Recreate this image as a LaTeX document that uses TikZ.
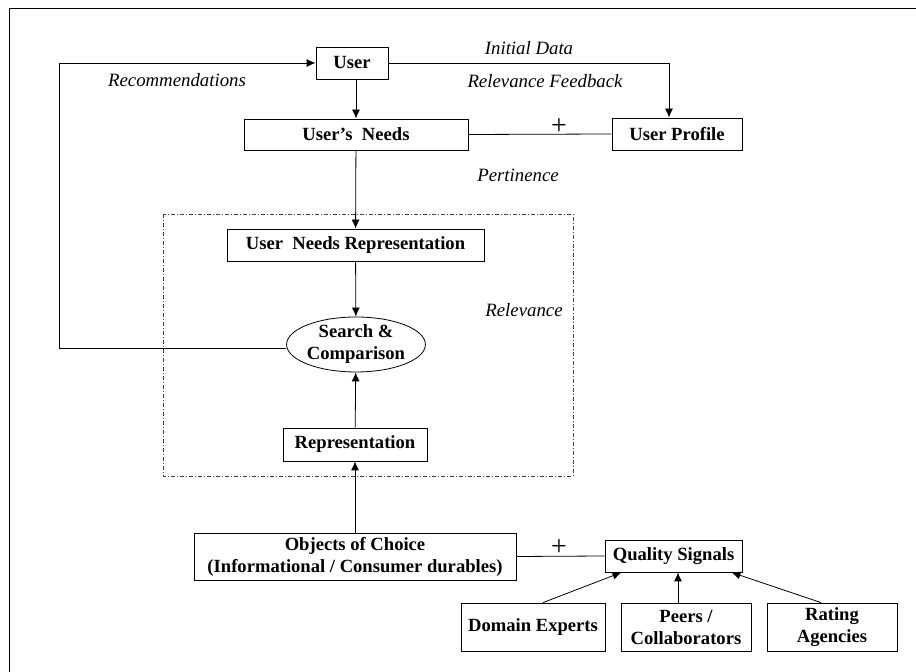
\documentclass[tikz,border=0pt]{standalone}
\usepackage{fontspec}
\setmainfont{Liberation Serif}
\usetikzlibrary{shapes.geometric,arrows.meta}

\begin{document}
\begin{tikzpicture}[x=0.5pt,y=-0.5pt, >={Latex[length=4.5pt,width=4pt]},
  box/.style={draw, rectangle, inner sep=0pt, align=center, font=\bfseries\fontsize{9.3}{11}\selectfont},
  oval/.style={draw, ellipse, inner sep=0pt, align=center, minimum width=64pt, minimum height=27.5pt, font=\bfseries\fontsize{9.3}{11}\selectfont},
  lbl/.style={inner sep=0pt, font=\itshape\fontsize{9.4}{11}\selectfont},
  cross/.style={inner sep=0pt, font=\fontsize{14}{14}\selectfont}]
\useasboundingbox (0,0) rectangle (916,672);
\draw (916,8) -- (9,8) -- (9,672);
\small
% boxes
\node[box, minimum width=36pt, minimum height=16pt] (user) at (352,63) {User};
\node[box, minimum width=112pt, minimum height=15.5pt] (needs) at (356,134.5) {User's\ \ Needs};
\node[box, minimum width=65pt, minimum height=16pt] (profile) at (677,134) {User Profile};
\node[box, minimum width=128.5pt, minimum height=16pt] (unr) at (355.5,245) {User\ \ Needs Representation};
\node[oval] (search) at (356,344.5) {Search \&\\Comparison};
\node[box, minimum width=72pt, minimum height=16.5pt] (repr) at (355,444.5) {Representation};
\node[box, minimum width=161pt, minimum height=23.5pt] (objects) at (355,556.5) {Objects of Choice\\(Informational / Consumer durables)};
\node[box, minimum width=68.5pt, minimum height=16pt] (quality) at (673.5,556) {Quality Signals};
\node[box, minimum width=72pt, minimum height=24pt] (experts) at (533,627) {Domain Experts};
\node[box, minimum width=65pt, minimum height=24pt] (peers) at (686,627) {Peers /\\Collaborators};
\node[box, minimum width=65pt, minimum height=24pt] (agencies) at (832,627) {Rating\\Agencies};
% labels
\node[lbl] (initial) at (529,48) {Initial Data};
\node[lbl] (feedback) at (545,81) {Relevance Feedback};
\node[lbl] (recomm) at (177,80) {Recommendations};
\node[lbl] (pertin) at (518,175) {Pertinence};
\node[lbl] (relev) at (524,310) {Relevance};
\node[cross] (plus1) at (559,127) {+};
\node[cross] (plus2) at (559,548) {+};
% dashed frame
\draw[black!75, dash pattern=on 2pt off 1pt on 0.5pt off 1pt] (163,214) rectangle (573,476);
% connectors
\coordinate (loop) at (59,63);
\path[draw,->] (needs |- user.south) -- (needs.north);
\path[draw,->] (needs) -- (unr);
\path[draw,->] (unr) -- (search);
\path[draw,->] (repr) -- (search);
\path[draw,->] (objects) -- (repr);
\path[draw,->] (user.east) -| ([xshift=-4pt]profile.north);
\path[draw,->] ([yshift=-2pt]search.west) -| (loop) -- (user.west);
\path[draw,-] (needs.east) -- (profile.west);
\path[draw,-] (objects.east) -- (quality.west);
\path[draw,->] ([xshift=5pt]experts.north) -- ([xshift=-26pt]quality.south);
\path[draw,->] ([xshift=-4pt]peers.north) -- ([xshift=-4pt]peers.north |- quality.south);
\path[draw,->] ([xshift=-5.5pt]agencies.north) -- ([xshift=29pt]quality.south);
\end{tikzpicture}
\end{document}
